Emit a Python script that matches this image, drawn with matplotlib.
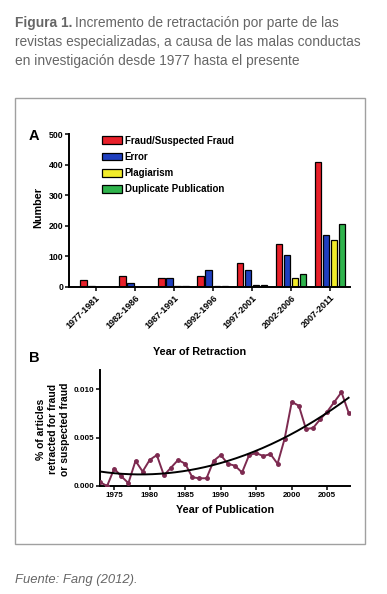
import numpy as np
import matplotlib
matplotlib.use("Agg")
import matplotlib.pyplot as plt
from matplotlib.patches import Rectangle

plt.rcParams.update({
    "font.family": ["Liberation Sans", "DejaVu Sans"],
    "font.weight": "bold",
    "axes.linewidth": 1.4,
    "xtick.major.width": 1.1,
    "ytick.major.width": 1.1,
    "xtick.major.size": 3,
    "ytick.major.size": 3,
    "xtick.major.pad": 1.5,
    "ytick.major.pad": 1.0,
})

# ---- panel A data: retractions by period and reason
periods = ["1977-1981", "1982-1986", "1987-1991", "1992-1996",
           "1997-2001", "2002-2006", "2007-2011"]
fraud       = [22, 35, 30, 35, 78, 142, 410]
error       = [2, 12, 30, 55, 57, 106, 170]
plagiarism  = [1, 0, 2, 4, 8, 28, 153]
duplicate   = [1, 0, 2, 4, 6, 44, 205]
series_names = ["Fraud/Suspected Fraud", "Error", "Plagiarism", "Duplicate Publication"]
series_colors = ["#e8202a", "#1f3fbf", "#f2ec2a", "#2fb34c"]

# ---- panel B data: % of articles retracted for fraud by publication year
pub_years = list(range(1973, 2009))
pct_fraud = [0.0004, 0.0000, 0.0018, 0.0010, 0.0003, 0.0026, 0.0015, 0.0027,
             0.0032, 0.0011, 0.0019, 0.0027, 0.0023, 0.0009, 0.0008, 0.0008,
             0.0026, 0.0032, 0.0023, 0.0021, 0.0014, 0.0032, 0.0034, 0.0031,
             0.0033, 0.0023, 0.0049, 0.0087, 0.0083, 0.0059, 0.0060, 0.0069,
             0.0077, 0.0087, 0.0097, 0.0076]

W, H = 387, 594
fig = plt.figure(figsize=(W / 100, H / 100), dpi=100)


def px_axes(left, top, right, bottom):
    return fig.add_axes([left / W, 1 - bottom / H, (right - left) / W, (bottom - top) / H])


def fx(x):
    return x / W


def fy(y):
    return 1 - y / H


GRAY = "#666666"
CAP = 9.9

# caption
t = fig.text(fx(15), fy(23), "Figura 1.", fontsize=CAP, fontweight="bold", color=GRAY,
             va="center", ha="left")
fig.canvas.draw()
bb = t.get_window_extent()
fig.text(bb.x1 / W + 0.008, fy(23), "Incremento de retractación por parte de las",
         fontsize=CAP, fontweight="normal", color=GRAY, va="center", ha="left")
fig.text(fx(15), fy(42), "revistas especializadas, a causa de las malas conductas",
         fontsize=CAP, fontweight="normal", color=GRAY, va="center", ha="left")
fig.text(fx(15), fy(61), "en investigación desde 1977 hasta el presente",
         fontsize=CAP, fontweight="normal", color=GRAY, va="center", ha="left")

fig.text(fx(15), fy(580), "Fuente: Fang (2012).", fontsize=9.4, fontweight="normal",
         style="italic", color=GRAY, va="center", ha="left")

# frame around the figure
fig.patches.append(Rectangle((fx(15), fy(544)), fx(350), (544 - 98) / H,
                             transform=fig.transFigure, fill=False,
                             edgecolor="#a0a0a0", linewidth=1.0))

# ---- panel A
ax = px_axes(69, 134, 350, 287)
x = np.arange(len(periods))
bw = 0.17
step = 0.205
for k, (vals, name, col) in enumerate(zip([fraud, error, plagiarism, duplicate],
                                          series_names, series_colors)):
    ax.bar(x + (k - 1.5) * step, vals, width=bw, color=col, edgecolor="black",
           linewidth=0.9, label=name)
ax.set_xlim(-0.68, 6.51)
ax.set_ylim(0, 500)
ax.set_yticks([0, 100, 200, 300, 400, 500])
ax.set_xticks(x)
ax.set_xticklabels(periods, rotation=45, ha="right", rotation_mode="anchor", fontsize=6.5)
ax.tick_params(axis="y", labelsize=6.3)
for s in ["top", "right"]:
    ax.spines[s].set_visible(False)
ax.legend(loc="upper left", bbox_to_anchor=(0.117, 0.99), frameon=False, fontsize=7,
          handlelength=2.1, handleheight=0.8, handletextpad=0.25, labelspacing=0.65,
          borderpad=0, borderaxespad=0)
fig.text(fx(200), fy(352), "Year of Retraction", fontsize=7.8, ha="center", va="center")
fig.text(fx(38), fy(208), "Number", fontsize=7.8, rotation=90, ha="center", va="center")
fig.text(fx(34), fy(136), "A", fontsize=10.5, ha="center", va="center")

# ---- panel B
bx = px_axes(100, 370, 350, 486)
line_col = "#7d2a50"
bx.plot(pub_years, pct_fraud, color=line_col, linewidth=1.4, marker="o",
        markersize=2.5, zorder=3)
coef = np.polyfit(pub_years, pct_fraud, 2)
xs = np.linspace(pub_years[0], pub_years[-1], 200)
bx.plot(xs, np.polyval(coef, xs), color="black", linewidth=1.4, zorder=4)
bx.set_xlim(1973, 2008.2)
bx.set_ylim(0, 0.012)
bx.set_yticks([0.000, 0.005, 0.010])
bx.set_yticklabels(["0.000", "0.005", "0.010"])
bx.set_xticks([1975, 1980, 1985, 1990, 1995, 2000, 2005])
bx.tick_params(axis="both", labelsize=5.8)
for s in ["top", "right"]:
    bx.spines[s].set_visible(False)
fig.text(fx(225), fy(510), "Year of Publication", fontsize=7.8, ha="center", va="center")
fig.text(fx(53), fy(429), "% of articles\nretracted for fraud\nor suspected fraud",
         fontsize=7.5, rotation=90, ha="center", va="center", linespacing=1.3)
fig.text(fx(34), fy(358), "B", fontsize=10.5, ha="center", va="center")

fig.savefig("out.png", dpi=100)
